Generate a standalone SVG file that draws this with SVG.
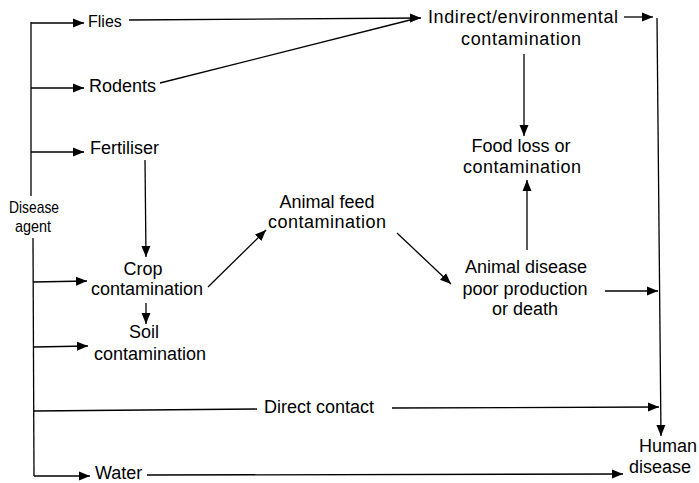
<svg xmlns="http://www.w3.org/2000/svg" width="699" height="483" viewBox="0 0 699 483">
<style>
text{font-family:"Liberation Sans",Arial,Helvetica,sans-serif;font-size:18px;fill:#000}
.c{text-anchor:middle}
.s{font-size:17px}
.f{font-size:16px}
line,polyline{stroke:#000;stroke-width:1.3;fill:none}
.a{marker-end:url(#ah)}
</style>
<defs>
<marker id="ah" markerUnits="userSpaceOnUse" markerWidth="12" markerHeight="10" refX="11" refY="5" orient="auto">
<path d="M0,0.5 L11,5 L0,9.5 z" fill="#000"/>
</marker>
</defs>
<rect width="699" height="483" fill="#fff"/>
<g id="connectors">
<line x1="31" y1="22" x2="31" y2="196"/>
<line x1="33" y1="238" x2="34" y2="476"/>
<line class="a" x1="31" y1="23" x2="84" y2="23"/>
<line class="a" x1="31" y1="88" x2="84" y2="88"/>
<line class="a" x1="31" y1="152" x2="84" y2="152"/>
<line class="a" x1="33" y1="282" x2="87" y2="281"/>
<line class="a" x1="34" y1="347" x2="88" y2="346"/>
<line x1="34" y1="411" x2="257" y2="409"/>
<line class="a" x1="392" y1="408" x2="659" y2="407"/>
<line class="a" x1="34" y1="476" x2="90" y2="476"/>
<line class="a" x1="147" y1="475" x2="623" y2="474"/>
<line class="a" x1="129" y1="20" x2="421" y2="18"/>
<line x1="160" y1="83" x2="414" y2="19"/>
<line class="a" x1="145" y1="160" x2="146" y2="257"/>
<line class="a" x1="146" y1="303" x2="146" y2="324"/>
<line class="a" x1="208" y1="287" x2="266" y2="230"/>
<line class="a" x1="397" y1="233" x2="451" y2="284"/>
<line class="a" x1="605" y1="291" x2="658" y2="291"/>
<line class="a" x1="527" y1="250" x2="527" y2="180"/>
<line class="a" x1="524" y1="54" x2="524" y2="136"/>
<line class="a" x1="624" y1="17" x2="653" y2="17"/>
<line class="a" x1="657" y1="18" x2="661" y2="436"/>
</g>
<g id="disease-agent"><text class="c s" x="34" y="213" textLength="50" lengthAdjust="spacingAndGlyphs">Disease</text><text class="c s" x="33" y="232" textLength="36" lengthAdjust="spacingAndGlyphs">agent</text></g>
<g id="flies"><text class="f" x="88" y="27">Flies</text></g>
<g id="rodents"><text x="89" y="92">Rodents</text></g>
<g id="fertiliser"><text x="90" y="154">Fertiliser</text></g>
<g id="crop"><text class="c" x="143" y="275">Crop</text><text class="c" x="147" y="295">contamination</text></g>
<g id="soil"><text class="c" x="144" y="338">Soil</text><text class="c" x="150" y="360">contamination</text></g>
<g id="animal-feed"><text class="c" x="327" y="208">Animal feed</text><text class="c" x="327" y="228" textLength="118">contamination</text></g>
<g id="indirect"><text x="428" y="23" textLength="190">Indirect/environmental</text><text class="c" x="521" y="45" textLength="120">contamination</text></g>
<g id="food-loss"><text class="c" x="521" y="152">Food loss or</text><text class="c" x="522" y="173" textLength="118">contamination</text></g>
<g id="animal-disease"><text class="c" x="526" y="273">Animal disease</text><text class="c" x="525" y="295">poor production</text><text class="c" x="525" y="315">or death</text></g>
<g id="direct-contact"><text x="264" y="413">Direct contact</text></g>
<g id="water"><text x="95" y="479">Water</text></g>
<g id="human-disease"><text class="c" x="668" y="452">Human</text><text class="c" x="660" y="473">disease</text></g>
</svg>
